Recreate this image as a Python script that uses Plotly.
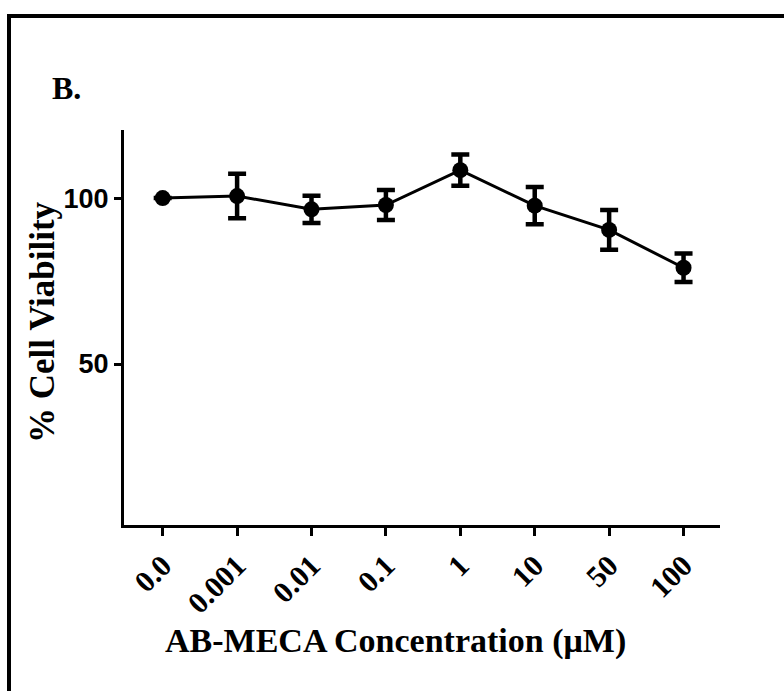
import plotly.graph_objects as go

categories = ["0.0", "0.001", "0.01", "0.1", "1", "10", "50", "100"]
viability = [100.0, 100.6, 96.6, 97.9, 108.4, 97.7, 90.4, 79.0]
sem = [0.0, 6.7, 4.1, 4.5, 4.7, 5.6, 6.0, 4.3]

W, H = 784, 691
L, R, T, B = 124, 64, 130, 166
pw, ph = W - L - R, H - T - B

def px(x):
    return (x - L) / pw

def py(y):
    return (H - B - y) / ph

fig = go.Figure()
fig.add_trace(go.Scatter(
    x=categories, y=viability,
    mode="lines+markers",
    line=dict(color="black", width=3),
    marker=dict(color="black", size=16, symbol="circle"),
    error_y=dict(type="data", array=sem, visible=True, color="black", thickness=4.5, width=9),
    showlegend=False,
))

fig.update_layout(
    width=W, height=H,
    margin=dict(l=L, r=R, t=T, b=B),
    paper_bgcolor="white", plot_bgcolor="white",
    xaxis=dict(
        type="category", range=[-0.52, 7.49],
        showline=True, linecolor="black", linewidth=3,
        ticks="outside", ticklen=8, tickwidth=3, tickcolor="black",
        tickangle=-45, showgrid=False, zeroline=False,
        tickfont=dict(family="Liberation Serif", size=30, color="black", weight="bold"),
    ),
    yaxis=dict(
        range=[1.5, 120.5],
        tickvals=[50, 100], ticktext=["50", "100"],
        showline=True, linecolor="black", linewidth=3,
        ticks="outside", ticklen=7, tickwidth=3, tickcolor="black",
        showgrid=False, zeroline=False,
        tickfont=dict(family="Liberation Sans", size=27, color="black", weight="bold"),
    ),
    annotations=[
        dict(text="<b>B.</b>", x=px(50), y=py(88), xref="paper", yref="paper",
             xanchor="left", yanchor="middle", showarrow=False,
             font=dict(family="Liberation Serif", size=32, color="black")),
        dict(text="<b>AB-MECA Concentration (μM)</b>", x=px(395), y=py(641), xref="paper", yref="paper",
             xanchor="center", yanchor="middle", showarrow=False,
             font=dict(family="Liberation Serif", size=34, color="black")),
        dict(text="<b>% Cell Viability</b>", x=px(42), y=py(322), xref="paper", yref="paper",
             xanchor="center", yanchor="middle", showarrow=False, textangle=-90,
             font=dict(family="Liberation Serif", size=35, color="black")),
    ],
    shapes=[
        dict(type="rect", xref="paper", yref="paper",
             x0=px(9), x1=px(820), y0=py(740), y1=py(16),
             line=dict(color="black", width=4)),
    ],
)

fig.write_html("out.html")
